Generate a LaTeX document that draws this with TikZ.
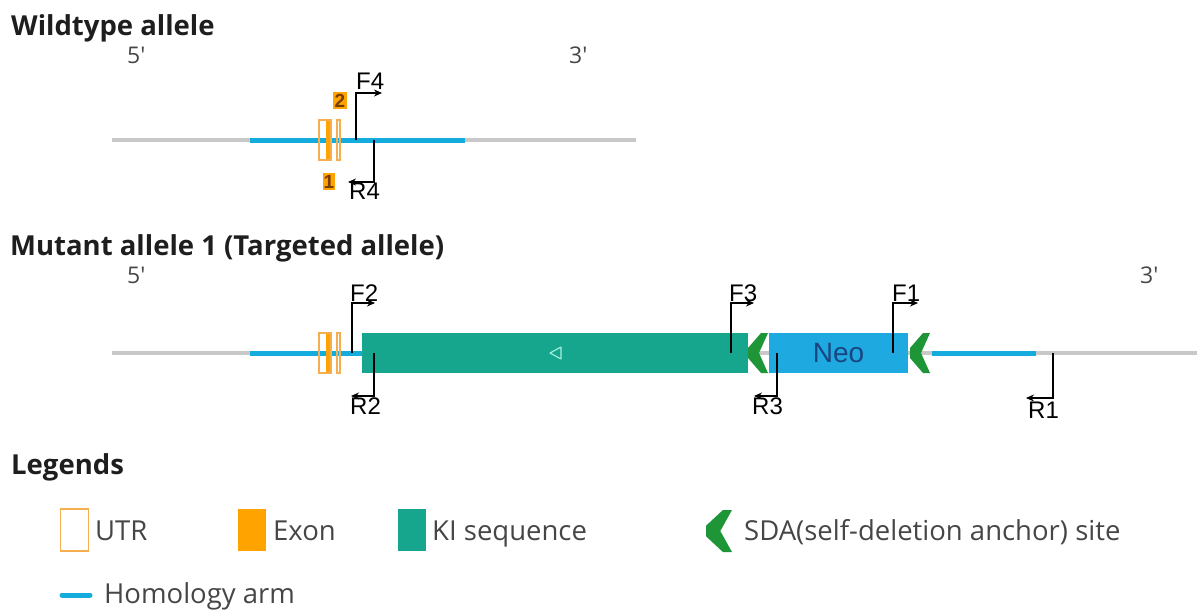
\documentclass[tikz,border=0pt]{standalone}
\usepackage{fontspec}
\setmainfont{Open Sans}
\newfontfamily\arialf{Liberation Sans}
\usetikzlibrary{arrows.meta}
\definecolor{glinec}{RGB}{200,200,200}
\definecolor{harmc}{RGB}{20,172,220}
\definecolor{neoc}{RGB}{30,170,224}
\definecolor{kic}{RGB}{22,166,142}
\definecolor{exonc}{RGB}{255,163,0}
\definecolor{utrc}{RGB}{245,175,80}
\definecolor{sdac}{RGB}{30,150,55}
\definecolor{neotxt}{RGB}{25,70,130}
\definecolor{legtxt}{RGB}{70,70,70}
\definecolor{titletxt}{RGB}{30,30,30}
\definecolor{exnumtxt}{RGB}{120,60,0}
\begin{document}
\begin{tikzpicture}[x=1pt,y=-1pt,
  gline/.style={glinec,line width=4pt},
  harm/.style={harmc,line width=5pt},
  prim/.style={black,line width=1.1pt,-{Stealth[length=8pt,width=7pt]}},
  plabel/.style={inner sep=0pt,font=\arialf\fontsize{24}{26}\selectfont,text=black},
  titlestyle/.style={inner sep=0pt,anchor=base west,font=\bfseries\fontsize{27.5}{30}\selectfont,text=titletxt},
  legstyle/.style={inner sep=0pt,anchor=base west,font=\fontsize{27.5}{30}\selectfont,text=legtxt},
  endstyle/.style={inner sep=0pt,anchor=base west,font=\fontsize{23}{26}\selectfont,text=legtxt},
  utrbox/.style={draw=utrc,line width=1.3pt},
  exnum/.style={fill=exonc,inner sep=0pt,minimum width=14pt,minimum height=17pt,font=\arialf\bfseries\fontsize{19}{19}\selectfont,text=exnumtxt},
  sda/.pic={\fill[sdac] (0,-5) -- (13,-20) -- (20,-20) -- (11,0) -- (20,20) -- (13,20) -- (0,5) -- cycle;}
]
\useasboundingbox (0,0) rectangle (1197,611);

% ---------------- Wildtype allele ----------------
\node[titlestyle] (wtt) at (11,35) {Wildtype allele};
\node[endstyle] (wt5) at (127,63) {5\textquotesingle};
\node[endstyle] (wt3) at (569,63) {3\textquotesingle};

\coordinate (wtA) at (112,140);
\coordinate (wtB) at (636,140);
\coordinate (wtH1) at (250,140);
\coordinate (wtH2) at (465,140);
\draw[gline] (wtA) -- (wtB);
\draw[harm] (wtH1) -- (wtH2);

% exons
\draw[utrbox] (319,120) rectangle (331,160);
\fill[exonc] (325.5,121) rectangle (330,159);
\draw[utrc,line width=1.3pt] (337,120) rectangle (340,160);
\node[exnum] (wtex2) at (340,100.5) {2};
\node[exnum,minimum width=12pt] (wtex1) at (329,181.5) {1};

% primers
\coordinate (f4a) at (356,140);
\coordinate (f4b) at (382,93);
\draw[prim] (f4a) |- (f4b);
\node[plabel,anchor=base west] (f4t) at (356,89) {F4};
\coordinate (r4a) at (374,140);
\coordinate (r4b) at (348,182);
\draw[prim] (r4a) |- (r4b);
\node[plabel,anchor=north west] (r4t) at (349,183) {R4};

% ---------------- Mutant allele ----------------
\node[titlestyle] (mtt) at (10,255) {Mutant allele 1 (Targeted allele)};
\node[endstyle] (mt5) at (127,283) {5\textquotesingle};
\node[endstyle] (mt3) at (1140,283) {3\textquotesingle};

\coordinate (mtA) at (112,353);
\coordinate (mtB) at (1197,353);
\coordinate (mtH1) at (250,353);
\coordinate (mtH2) at (362,353);
\coordinate (mtH3) at (932,353);
\coordinate (mtH4) at (1036,353);
\draw[gline] (mtA) -- (mtB);
\draw[harm] (mtH1) -- (mtH2);
\draw[harm] (mtH3) -- (mtH4);

\draw[utrbox] (319,333) rectangle (331,373);
\fill[exonc] (325.5,334) rectangle (330,372);
\draw[utrc,line width=1.3pt] (337,333) rectangle (340,373);

% KI sequence
\node[fill=kic,inner sep=0pt,minimum width=386pt,minimum height=40pt] (ki) at (555,353) {};
\draw[draw={rgb,255:red,170;green,240;blue,225},line width=1.1pt,line join=round] (550,353) -- (561,347) -- (561,359) -- cycle;

% SDA
\pic at (748,353) {sda};
% Neo
\node[fill=neoc,inner sep=0pt,minimum width=139pt,minimum height=40pt,
      font=\arialf\fontsize{28}{28}\selectfont,text=neotxt] (neo) at (838.5,353) {Neo};
\pic at (910,353) {sda};

% primers
\coordinate (f2a) at (352,353);
\coordinate (f2b) at (375,303);
\draw[prim] (f2a) |- (f2b);
\node[plabel,anchor=base west] (f2t) at (350,301) {F2};
\coordinate (r2a) at (374,353);
\coordinate (r2b) at (351,396);
\draw[prim] (r2a) |- (r2b);
\node[plabel,anchor=north west] (r2t) at (350,398) {R2};

\coordinate (f3a) at (731,353);
\coordinate (f3b) at (754,303);
\draw[prim] (f3a) |- (f3b);
\node[plabel,anchor=base west] (f3t) at (729,301) {F3};
\coordinate (r3a) at (777,353);
\coordinate (r3b) at (754,396);
\draw[prim] (r3a) |- (r3b);
\node[plabel,anchor=north west] (r3t) at (752,398) {R3};

\coordinate (f1a) at (893,353);
\coordinate (f1b) at (918,303);
\draw[prim] (f1a) |- (f1b);
\node[plabel,anchor=base west] (f1t) at (892,301) {F1};
\coordinate (r1a) at (1053,353);
\coordinate (r1b) at (1026,398);
\draw[prim] (r1a) |- (r1b);
\node[plabel,anchor=north west] (r1t) at (1028,402) {R1};

% ---------------- Legends ----------------
\node[titlestyle] (legt) at (11,474) {Legends};

\draw[utrbox] (60.5,509) rectangle (88.5,551);
\node[legstyle] (lutr) at (95,540) {UTR};
\fill[exonc] (238,509) rectangle (266,551);
\node[legstyle] (lexon) at (273,540) {Exon};
\fill[kic] (398,509) rectangle (426,551);
\node[legstyle] (lki) at (432,540) {KI sequence};
\pic[xscale=1.3,yscale=1.05] at (706,531) {sda};
\node[legstyle] (lsda) at (744,540) {SDA(self-deletion anchor) site};

\coordinate (lh1) at (62,595);
\coordinate (lh2) at (90,595);
\draw[harmc,line width=5pt,line cap=round] (lh1) -- (lh2);
\node[legstyle] (lhom) at (104,603) {Homology arm};
\end{tikzpicture}
\end{document}
